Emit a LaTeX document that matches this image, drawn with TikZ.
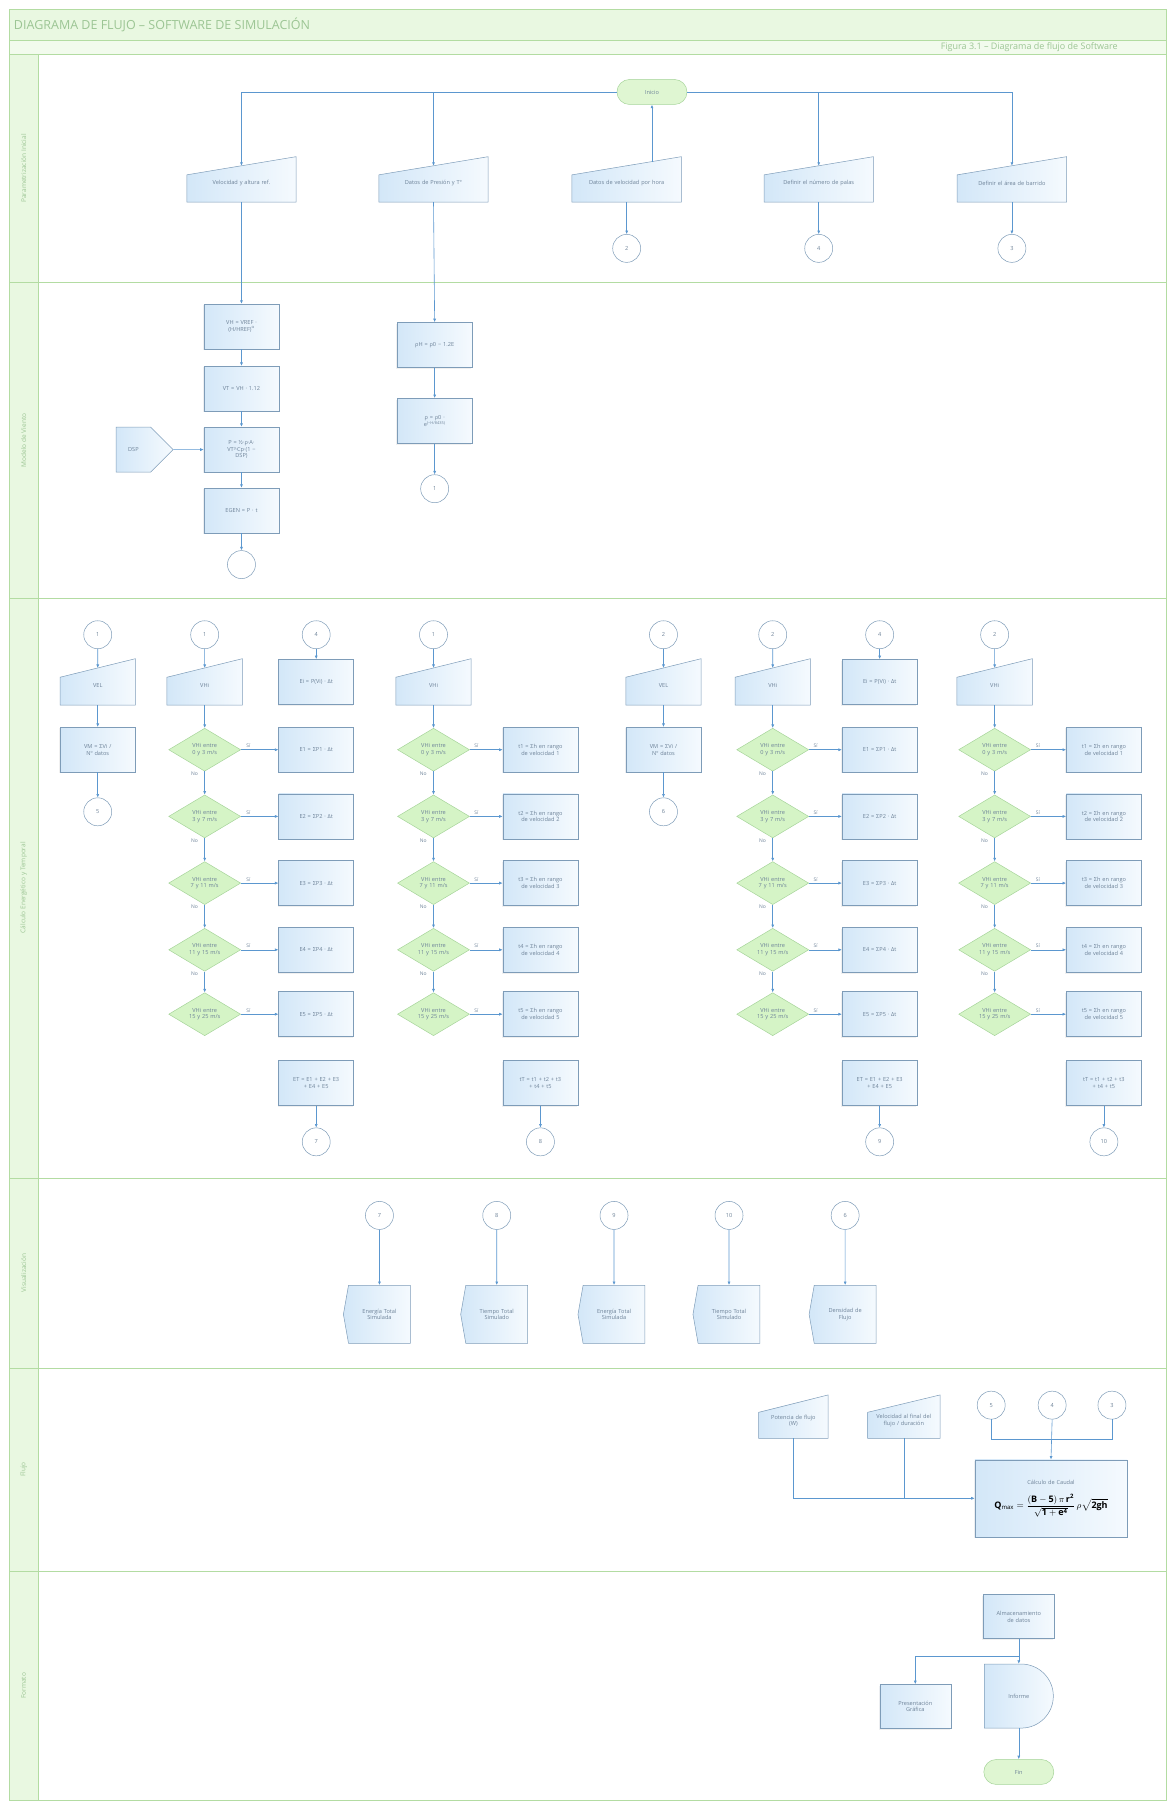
\documentclass[tikz,border=0pt]{standalone}
\usepackage{fontspec}
\setmainfont{Open Sans}
\usetikzlibrary{shapes.geometric,shapes.misc,shapes.symbols,arrows.meta,calc,shadows}
\pgfdeclarelayer{bg}
\pgfsetlayers{bg,main}
\definecolor{lanegreen}{HTML}{B3DCA2}
\definecolor{bandfill}{HTML}{E9F8E1}
\definecolor{titletxt}{HTML}{9CC594}
\definecolor{connc}{HTML}{5B97CF}
\definecolor{boxline}{HTML}{7E9CB8}
\definecolor{boxfillA}{HTML}{D3E7F8}
\definecolor{boxfillB}{HTML}{F5FAFE}
\definecolor{txt}{HTML}{6D8298}
\definecolor{diafill}{HTML}{D5F4C6}
\definecolor{dialine}{HTML}{A6D49A}
\definecolor{termfill}{HTML}{DFF6D2}
\tikzset{
 every node/.style={font=\fontsize{5.6}{6.6}\selectfont, text=txt},
 laneline/.style={draw=lanegreen, line width=0.8pt},
 lanelbl/.style={rotate=90, font=\fontsize{6.5}{7.5}\selectfont, text=titletxt},
 procbox/.style={rectangle, draw=boxline, line width=0.5pt, left color=boxfillA, right color=boxfillB,
   minimum width=75pt, minimum height=45pt, align=center, text width=66pt, inner sep=1pt,
   drop shadow={shadow xshift=-1.2pt, shadow yshift=-1.2pt, opacity=0.12}},
 decision/.style={diamond, draw=dialine, line width=0.5pt, fill=diafill, minimum width=72pt,
   minimum height=43pt, aspect=1.7, inner sep=0pt, align=center, text width=40pt},
 conn/.style={circle, draw=boxline, line width=0.5pt, fill=white, minimum size=28pt, inner sep=0pt},
 term/.style={rounded rectangle, draw=dialine, line width=0.5pt, fill=termfill, minimum width=72pt,
   minimum height=25pt, inner sep=1pt},
 inframe/.style={rectangle, draw=none, inner sep=0pt},
 inshape/.style={draw=boxline, line width=0.5pt, left color=boxfillA, right color=boxfillB},
 intext/.style={align=center, inner sep=0pt},
 dispbox/.style={signal, signal to=west, signal pointer angle=160, draw=boxline, line width=0.5pt,
   left color=boxfillA, right color=boxfillB, minimum width=67pt, minimum height=58pt,
   align=center, text width=52pt, inner sep=1pt},
 dspbox/.style={signal, signal to=east, signal pointer angle=90, draw=boxline, line width=0.5pt,
   left color=boxfillA, right color=boxfillB, minimum width=57pt, minimum height=45pt, inner sep=1pt},
 delaybox/.style={rounded rectangle, rounded rectangle west arc=none, draw=boxline, line width=0.5pt,
   left color=boxfillA, right color=boxfillB, minimum width=71pt, minimum height=64pt, inner sep=1pt},
 arr/.style={draw=connc, line width=0.6pt, -{Latex[length=3.5pt,width=3pt]}},
 plainline/.style={draw=connc, line width=0.6pt},
 yesno/.style={font=\fontsize{5}{6}\selectfont, text=txt, inner sep=1.5pt},
}
% manual input shape: name, position, size options, text width, text
\newcommand\mkin[5]{%
 \path node[inframe, #3] (#1) at (#2) {};
 \begin{pgfonlayer}{bg}
 \path[inshape] (#1.south west) -- (#1.south east) -- (#1.north east)
   -- ($(#1.north west)!0.4!(#1.south west)$) -- cycle;
 \end{pgfonlayer}
 \coordinate (#1-top) at ($(#1.north)!0.2!(#1.south)$);
 \node[intext, text width=#4] (#1-t) at ($(#1.center)+(0,-4pt)$) {#5};}
\begin{document}
\begin{tikzpicture}[x=1.1498pt,y=-1.1498pt]
\useasboundingbox (0,0) rectangle (1015,1568);
% ---------- frame ----------
\fill[bandfill] (8,8) rectangle (1014,35);
\fill[bandfill!60] (8,35) rectangle (1014,47);
\fill[bandfill] (8,47) rectangle (33,1566);
\draw[laneline] (8,8) rectangle (1014,1566);
\draw[laneline] (8,35) -- (1014,35);
\draw[laneline] (8,47) -- (1014,47);
\draw[laneline] (33,47) -- (33,1566);
\foreach \yy in {246,520,1025,1190,1367} {\draw[laneline] (8,\yy) -- (1014,\yy);}
\node[anchor=west, font=\fontsize{12.5}{14}\selectfont, text=titletxt, inner sep=0pt] (title) at (12,21.5)
  {DIAGRAMA DE FLUJO – SOFTWARE DE SIMULACIÓN};
\node[anchor=west, font=\fontsize{9}{10}\selectfont, text=titletxt, inner sep=0pt] (subtitle) at (818,41.2)
  {Figura 3.1 – Diagrama de flujo de Software};
\node[lanelbl] (L1) at (20.5,146.5) {Parametrización Inicial};
\node[lanelbl] (L2) at (20.5,383) {Modelo de Viento};
\node[lanelbl] (L3) at (20.5,772) {Cálculo Energético y Temporal};
\node[lanelbl] (L4) at (20.5,1107) {Visualización};
\node[lanelbl] (L5) at (20.5,1278) {Flujo};
\node[lanelbl] (L6) at (20.5,1466) {Formato};
% ---------- lane 1 ----------
\node[term] (start) at (567,80) {Inicio};
\mkin{I1}{210,156}{minimum width=109pt,minimum height=45pt}{98pt}{Velocidad y altura ref.}
\mkin{I2}{377,156}{minimum width=109pt,minimum height=45pt}{98pt}{Datos de Presión y T°}
\mkin{I3}{545,156}{minimum width=109pt,minimum height=45pt}{98pt}{Datos de velocidad por hora}
\mkin{I4}{712,156}{minimum width=109pt,minimum height=45pt}{98pt}{Definir el número de palas}
\mkin{I5}{880,156}{minimum width=109pt,minimum height=45pt}{98pt}{Definir el área de barrido}
\node[conn] (K1a) at (545,216) {2};
\node[conn] (K1b) at (712,216) {4};
\node[conn] (K1c) at (880,216) {3};
\coordinate (I3up) at (567,141);
\draw[arr] (start.west) -| (I1-top);
\draw[arr] (start.west) -| (I2-top);
\draw[arr] (start.east) -| (I4-top);
\draw[arr] (start.east) -| (I5-top);
\draw[arr] (I3up) -- (start.south);
\draw[arr] (I3.south) -- (K1a);
\draw[arr] (I4.south) -- (K1b);
\draw[arr] (I5.south) -- (K1c);
% ---------- lane 2 ----------
\node[procbox] (B1) at (210,284) {VH = VREF ·\\(H/HREF)\textsuperscript{α}};
\node[procbox] (B2) at (210,338) {VT = VH · 1.12};
\node[procbox] (B3) at (210,391) {P = ½·ρ·A·\\VT³·Cp·(1 −\\DSP)};
\node[procbox] (B4) at (210,444) {EGEN = P · t};
\node[conn] (Lc0) at (210,491) {};
\node[dspbox] (DSP) at (116,391) {DSP};
\node[procbox] (B5) at (378,300) {ρH = ρ0 − 1.2E};
\node[procbox] (B6) at (378,366) {ρ = ρ0 ·\\e\textsuperscript{(−H/8435)}};
\node[conn] (Lc1) at (378,425) {1};
\draw[arr] (I1.south) -- (B1.north);
\draw[arr] (I2.south) -- (B5.north);
\draw[arr] (B1) -- (B2);
\draw[arr] (B2) -- (B3);
\draw[arr] (B3) -- (B4);
\draw[arr] (B4) -- (Lc0);
\draw[arr] (DSP) -- (B3);
\draw[arr] (B5) -- (B6);
\draw[arr] (B6) -- (Lc1);
% ---------- lane 3 ----------
\foreach \cc/\xx/\la/\lb in {A/85/1/5, F/577/2/6} {
  \node[conn] (\cc c) at (\xx,552) {\la};
  \mkin{\cc t}{\xx,593}{minimum width=75pt,minimum height=46pt}{66pt}{VEL}
  \node[procbox] (\cc b) at (\xx,652) {VM = ΣVi /\\Nº datos};
  \node[conn] (\cc e) at (\xx,706) {\lb};
  \draw[arr] (\cc c) -- (\cc t-top);
  \draw[arr] (\cc t.south) -- (\cc b);
  \draw[arr] (\cc b) -- (\cc e);
}
\foreach \cd/\cr/\xd/\xr/\la/\lb/\lc in {B/C/178/275/1/4/7, G/H/672/765/2/4/9} {
  \node[conn] (\cd c) at (\xd,552) {\la};
  \mkin{\cd t}{\xd,593}{minimum width=75pt,minimum height=46pt}{66pt}{VHi}
  \draw[arr] (\cd c) -- (\cd t-top);
  \node[conn] (\cr c) at (\xr,552) {\lb};
  \node[procbox] (\cr 0) at (\xr,593) {Ei = P(Vi) · Δt};
  \draw[arr] (\cr c) -- (\cr 0);
  \foreach \i/\yv/\lo/\hi in {1/652/0/3,2/710/3/7,3/768/7/11,4/826/11/15,5/882/15/25} {
    \node[decision] (\cd d\i) at (\xd,\yv) {VHi entre\\\lo{} y \hi{} m/s};
    \node[procbox] (\cr r\i) at (\xr,\yv) {E\i{} = ΣP\i{} · Δt};
    \draw[arr] (\cd d\i) -- node[yesno, above, pos=0.2] {Sí} (\cr r\i);
  }
  \draw[arr] (\cd t.south) -- (\cd d1.north);
  \foreach \i/\j in {1/2,2/3,3/4,4/5} {
    \draw[arr] (\cd d\i.south) -- node[yesno, left=5pt, pos=0.1] {No} (\cd d\j.north);
  }
  \node[procbox] (\cr s) at (\xr,942) {ET = E1 + E2 + E3\\+ E4 + E5};
  \node[conn] (\cr e) at (\xr,993) {\lc};
  \draw[arr] (\cr s) -- (\cr e);
}
\foreach \cd/\cr/\xd/\xr/\la/\lc in {D/E/377/470/1/8, I/J/865/960/2/10} {
  \node[conn] (\cd c) at (\xd,552) {\la};
  \mkin{\cd t}{\xd,593}{minimum width=75pt,minimum height=46pt}{66pt}{VHi}
  \draw[arr] (\cd c) -- (\cd t-top);
  \foreach \i/\yv/\lo/\hi in {1/652/0/3,2/710/3/7,3/768/7/11,4/826/11/15,5/882/15/25} {
    \node[decision] (\cd d\i) at (\xd,\yv) {VHi entre\\\lo{} y \hi{} m/s};
    \node[procbox] (\cr r\i) at (\xr,\yv) {t\i{} = Σh en rango\\de velocidad \i};
    \draw[arr] (\cd d\i) -- node[yesno, above, pos=0.2] {Sí} (\cr r\i);
  }
  \draw[arr] (\cd t.south) -- (\cd d1.north);
  \foreach \i/\j in {1/2,2/3,3/4,4/5} {
    \draw[arr] (\cd d\i.south) -- node[yesno, left=5pt, pos=0.1] {No} (\cd d\j.north);
  }
  \node[procbox] (\cr s) at (\xr,942) {tT = t1 + t2 + t3\\+ t4 + t5};
  \node[conn] (\cr e) at (\xr,993) {\lc};
  \draw[arr] (\cr s) -- (\cr e);
}
% ---------- lane 4 ----------
\foreach \n/\xx/\lab/\tx in {1/330/7/{Energía Total\\Simulada}, 2/432/8/{Tiempo Total\\Simulado},
    3/534/9/{Energía Total\\Simulada}, 4/634/10/{Tiempo Total\\Simulado}, 5/735/6/{Densidad de\\Flujo}} {
  \node[conn] (W\n) at (\xx,1057) {\lab};
  \node[dispbox] (V\n) at (\xx,1143) {\tx};
  \draw[arr] (W\n) -- (V\n);
}
% ---------- lane 5 ----------
\mkin{P1}{690,1232}{minimum width=69pt,minimum height=43pt}{62pt}{Potencia de flujo\\(W)}
\mkin{P2}{786,1232}{minimum width=72pt,minimum height=43pt}{66pt}{Velocidad al final del\\flujo / duración}
\node[conn] (K5a) at (862,1222) {5};
\node[conn] (K5b) at (915,1222) {4};
\node[conn] (K5c) at (967,1222) {3};
\node[procbox, minimum width=152pt, minimum height=77pt, text width=148pt] (Q) at (914,1303)
  {Cálculo de Caudal\\[9pt]{\color{black}\fontsize{9}{11}\selectfont
   $\mathbf{Q_{\max}=\displaystyle\frac{(B-5)\,\pi\,r^{2}}{\sqrt{1+e^{4}}}\,\rho\sqrt{2gh}}$}};
\coordinate (Kj) at (915,1252);
\draw[plainline] (K5a.south) |- (Kj) -| (K5c.south);
\draw[arr] (K5b.south) -- (Q.north);
\draw[arr] (P1.south) |- (Q.west);
\draw[plainline] (P2.south) -- (P2.south |- Q.west);
% ---------- lane 6 ----------
\node[procbox, minimum width=71pt, minimum height=44pt, text width=62pt] (R1) at (886,1406)
  {Almacenamiento\\de datos};
\node[procbox, minimum width=71pt, minimum height=44pt, text width=62pt] (R2) at (796,1484)
  {Presentación\\Gráfica};
\node[delaybox] (R3) at (886,1475) {Informe};
\node[term] (fin) at (886,1541) {Fin};
\coordinate (Rj) at (886,1440);
\draw[plainline] (R1.south) -- (Rj);
\draw[arr] (Rj) -- (R3.north);
\draw[arr] (Rj) -| (R2.north);
\draw[arr] (R3.south) -- (fin.north);
\end{tikzpicture}
\end{document}
